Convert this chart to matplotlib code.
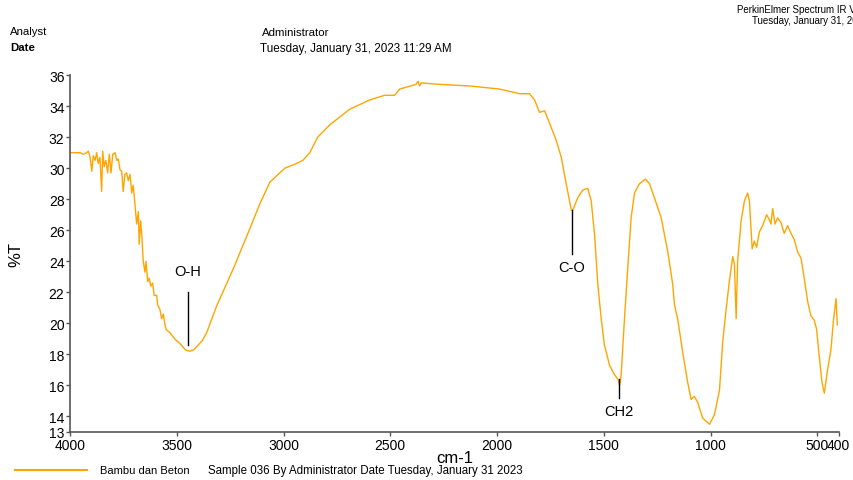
import matplotlib
matplotlib.use("Agg")
import matplotlib.pyplot as plt
from matplotlib.lines import Line2D

plt.rcParams['font.family'] = ['Liberation Sans', 'DejaVu Sans']

# IR spectrum (wavenumber cm-1, %T)
wavenumber = [
    4000, 3953, 3938, 3922, 3914, 3906, 3898, 3891, 3883, 3875, 3868, 3860,
    3852, 3847, 3840, 3832, 3824, 3816, 3808, 3800, 3789, 3781, 3774, 3766,
    3758, 3751, 3743, 3735, 3727, 3719, 3711, 3704, 3696, 3688, 3680, 3676,
    3669, 3663, 3657, 3649, 3644, 3636, 3629, 3622, 3613, 3606, 3594, 3590,
    3579, 3571, 3563, 3559, 3550, 3532, 3510, 3485, 3460, 3440, 3420, 3400,
    3380, 3360, 3314, 3236, 3158, 3111, 3064, 2994, 2940, 2910, 2877, 2840,
    2783, 2690, 2596, 2526, 2479, 2456, 2380, 2370, 2362, 2355, 2269, 2128,
    1988, 1894, 1848, 1824, 1801, 1777, 1754, 1723, 1699, 1676, 1652, 1645,
    1622, 1598, 1575, 1559, 1543, 1528, 1512, 1497, 1473, 1450, 1434, 1426,
    1419, 1403, 1388, 1372, 1356, 1333, 1305, 1286, 1263, 1231, 1200, 1177,
    1169, 1154, 1130, 1107, 1091, 1076, 1060, 1037, 1005, 982, 958, 943, 927,
    912, 896, 888, 880, 873, 865, 857, 841, 826, 818, 805, 795, 784, 771, 756,
    737, 725, 717, 709, 698, 686, 670, 655, 639, 623, 608, 592, 576, 561, 545,
    530, 514, 503, 491, 478, 467, 452, 436, 425, 412, 406,
]
transmittance = [
    31.0, 31.0, 30.9, 31.0, 31.1, 30.7, 29.8, 30.8, 30.5, 31.0, 30.3, 30.7,
    28.5, 31.1, 30.1, 30.5, 29.7, 30.9, 29.7, 30.9, 31.0, 30.5, 30.6, 29.9,
    29.8, 28.5, 29.6, 29.7, 29.2, 29.6, 28.4, 28.9, 27.7, 26.4, 27.2, 25.1,
    26.6, 25.5, 24.0, 23.3, 24.0, 22.7, 22.9, 22.4, 22.6, 21.8, 21.8, 21.2,
    20.9, 20.3, 20.6, 20.2, 19.6, 19.4, 19.0, 18.7, 18.3, 18.2, 18.3, 18.6,
    18.9, 19.4, 21.1, 23.5, 26.1, 27.7, 29.1, 30.0, 30.3, 30.5, 31.0, 32.0,
    32.8, 33.8, 34.4, 34.7, 34.7, 35.1, 35.4, 35.6, 35.3, 35.5, 35.4, 35.3,
    35.1, 34.8, 34.8, 34.4, 33.6, 33.7, 32.9, 31.8, 30.7, 29.0, 27.3, 27.3,
    28.1, 28.6, 28.7, 27.9, 25.7, 22.5, 20.3, 18.6, 17.3, 16.7, 16.4, 16.0,
    16.6, 20.3, 23.5, 26.8, 28.4, 29.0, 29.3, 29.0, 28.1, 26.8, 24.6, 22.5,
    21.2, 20.3, 18.1, 16.2, 15.1, 15.3, 14.9, 13.9, 13.5, 14.1, 15.7, 18.8,
    20.9, 22.7, 24.3, 23.8, 20.3, 24.0, 25.3, 26.6, 27.9, 28.4, 27.9, 24.8,
    25.3, 24.9, 25.9, 26.3, 27.0, 26.7, 26.4, 27.4, 26.4, 26.8, 26.5, 25.8,
    26.3, 25.8, 25.4, 24.6, 24.2, 22.9, 21.4, 20.5, 20.2, 19.6, 17.9, 16.2,
    15.5, 17.0, 18.3, 20.1, 21.6, 19.9,
]

x_ticks = [4000, 3500, 3000, 2500, 2000, 1500, 1000, 500, 400]
y_ticks = [13, 14, 16, 18, 20, 22, 24, 26, 28, 30, 32, 34, 36]

# peak labels: name, wavenumber, line bottom, line top, label y, label anchor
peak_names = ["O-H", "C-O", "CH2"]
peak_wn = [3448, 1650, 1431]
peak_lo = [18.6, 24.5, 15.2]
peak_hi = [22.0, 27.3, 16.4]
peak_text_y = [22.9, 24.1, 14.8]
peak_text_va = ["bottom", "top", "top"]

line_color = "#FFA500"
axis_color = "#555555"

fig = plt.figure(figsize=(8.54, 4.81), dpi=100)
ax = fig.add_axes([0.082, 0.0998, 0.900, 0.742])

ax.plot(wavenumber, transmittance, color=line_color, linewidth=1.0)

for name, wn, lo, hi, ty, va in zip(peak_names, peak_wn, peak_lo, peak_hi,
                                    peak_text_y, peak_text_va):
    ax.plot([wn, wn], [lo, hi], color="black", linewidth=1.0)
    ax.text(wn, ty, name, ha="center", va=va, fontsize=10.5)

ax.set_xlim(4000, 400)
ax.set_ylim(13, 36)
ax.set_xticks(x_ticks)
ax.set_xticklabels([str(t) for t in x_ticks])
ax.set_yticks(y_ticks)
ax.set_yticklabels([str(t) for t in y_ticks])
ax.tick_params(axis="both", direction="out", length=3, width=1,
               color=axis_color, labelsize=10, pad=1)

for side in ["top", "right"]:
    ax.spines[side].set_visible(False)
for side in ["left", "bottom"]:
    ax.spines[side].set_color(axis_color)
    ax.spines[side].set_linewidth(1.2)

ax.set_xlabel("cm-1", fontsize=12, labelpad=-1)
ax.set_ylabel("%T", fontsize=12, labelpad=18)

# header text
fig.text(10 / 854, 1 - 32 / 481, "Analyst", fontsize=8.2, va="center")
fig.text(10 / 854, 1 - 48 / 481, "Date", fontsize=8.2, va="center", fontweight="bold")
fig.text(262 / 854, 1 - 33 / 481, "Administrator", fontsize=8.2, va="center")
fig.text(260 / 854, 1 - 49 / 481, "Tuesday, January 31, 2023 11:29 AM", fontsize=8.4, va="center")
fig.text(737 / 854, 1 - 10 / 481, "PerkinElmer Spectrum IR Version 10.6.1", fontsize=7, va="center")
fig.text(752 / 854, 1 - 21 / 481, "Tuesday, January 31, 2023 11:29 AM", fontsize=7, va="center")

# legend row
fig.add_artist(Line2D([15 / 854, 87 / 854], [1 - 471 / 481, 1 - 471 / 481],
                      color=line_color, linewidth=1.5))
fig.text(100 / 854, 1 - 471 / 481, "Bambu dan Beton", fontsize=8, va="center")
fig.text(208 / 854, 1 - 471 / 481,
         "Sample 036 By Administrator Date Tuesday, January 31 2023", fontsize=8.3, va="center")

fig.savefig("out.png", dpi=100)
